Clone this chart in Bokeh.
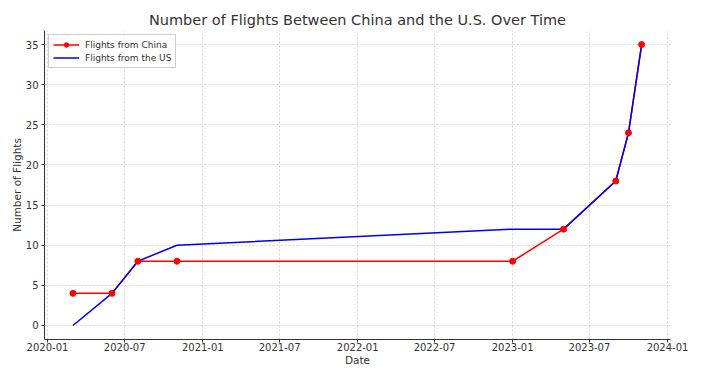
from datetime import datetime
from bokeh.plotting import figure
from bokeh.models import (Range1d, MonthsTicker, DatetimeTickFormatter, SingleIntervalTicker,
                          Legend, Title)
from bokeh.embed import file_html
from bokeh.resources import INLINE

dates = ["2020-03-01", "2020-06-01", "2020-08-01", "2020-11-01", "2023-01-01",
         "2023-05-01", "2023-09-01", "2023-10-01", "2023-11-01"]
china = [4, 4, 8, 8, 8, 12, 18, 24, 35]
us = [0, 4, 8, 10, 12, 12, 18, 24, 35]

x = [datetime.strptime(d, "%Y-%m-%d") for d in dates]

FONT = "DejaVu Sans"
TXT = "#333333"

p = figure(width=700, height=368, x_axis_type="datetime", output_backend="svg",
           toolbar_location=None,
           x_range=Range1d(datetime(2019, 12, 25), datetime(2024, 1, 8)),
           y_range=Range1d(-1.75, 36.75),
           min_border_left=44, min_border_right=30, min_border_top=30, min_border_bottom=20)
p.title = Title(text="Number of Flights Between China and the U.S. Over Time", align="center",
                text_font=FONT, text_font_size="14.5px", text_font_style="normal",
                text_color=TXT, standoff=6)
p.outline_line_color = None

l1 = p.line(x, china, line_color="red", line_width=1.5)
l2 = p.line(x, us, line_color="#0000ee", line_width=1.5)
s1 = p.scatter(x, china, size=6, fill_color="red", line_color="red")

legend = Legend(items=[("Flights from China", [l1, s1]), ("Flights from the US", [l2])],
                location="top_left", label_text_font=FONT, label_text_font_size="9px",
                label_text_color=TXT, border_line_color="#cccccc", border_line_alpha=1,
                background_fill_alpha=0.8, glyph_width=26, glyph_height=11,
                label_height=11, spacing=2, padding=4, margin=4,
                label_standoff=6)
p.add_layout(legend)

p.xaxis.ticker = MonthsTicker(months=[0, 6])
p.xaxis.formatter = DatetimeTickFormatter(months="%Y-%m", years="%Y-%m", days="%Y-%m")
p.yaxis.ticker = SingleIntervalTicker(interval=5)

for ax in (p.xaxis[0], p.yaxis[0]):
    ax.major_label_text_font = FONT
    ax.major_label_text_font_size = "10px"
    ax.major_label_text_color = TXT
    ax.axis_label_text_font = FONT
    ax.axis_label_text_font_size = "10.5px"
    ax.axis_label_text_font_style = "normal"
    ax.axis_label_text_color = TXT
    ax.axis_line_color = "#333333"
    ax.major_tick_line_color = "#333333"
    ax.minor_tick_line_color = None
    ax.major_tick_out = 3
    ax.major_tick_in = 0
    ax.axis_label_standoff = 0
    ax.major_label_standoff = 2

p.xaxis.major_label_standoff = 0
p.yaxis.axis_label_standoff = 0
p.xaxis.axis_label = "Date"
p.yaxis.axis_label = "Number of Flights"

p.grid.grid_line_color = "#cccccc"
p.grid.grid_line_dash = "2 2"
p.grid.grid_line_width = 0.8

open("out.html", "w").write(file_html(p, INLINE))
